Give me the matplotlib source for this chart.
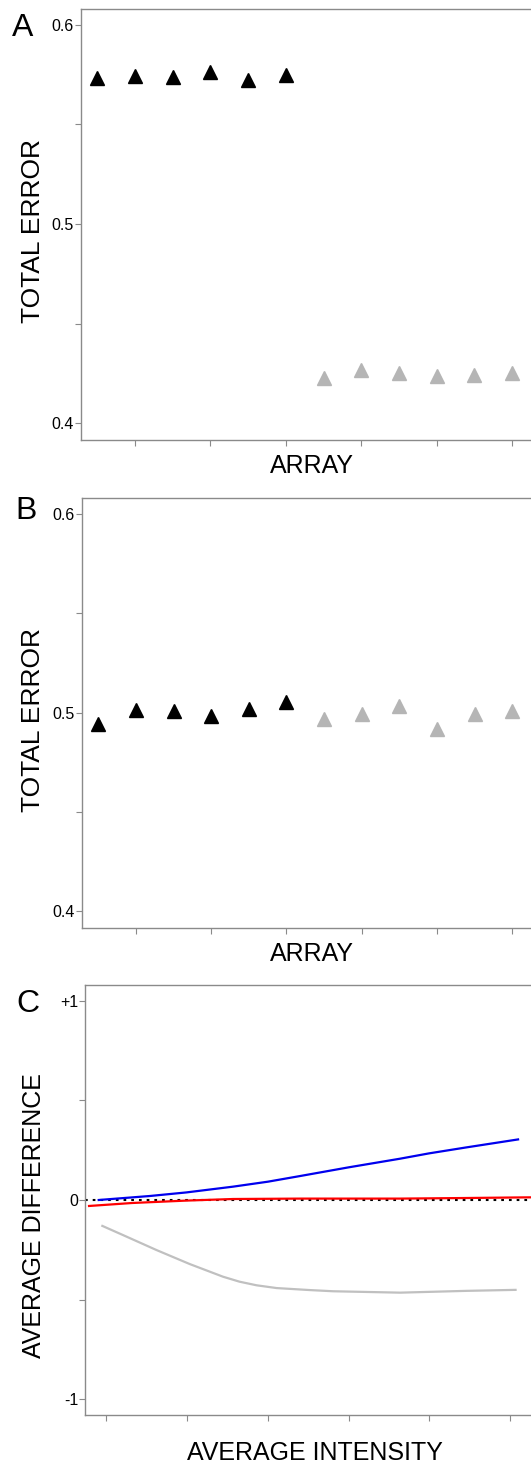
import matplotlib.pyplot as plt

plt.rcParams['font.family'] = ['Liberation Sans', 'DejaVu Sans']

# Panel A / B: total error per array (12 arrays, first 6 black, last 6 grey)
arrays_black = [1, 2, 3, 4, 5, 6]
arrays_grey = [7, 8, 9, 10, 11, 12]
err_a_black = [0.5734, 0.5744, 0.5740, 0.5766, 0.5724, 0.5746]
err_a_grey = [0.4225, 0.4266, 0.4250, 0.4236, 0.4241, 0.4250]
err_b_black = [0.4942, 0.5014, 0.5008, 0.4980, 0.5017, 0.5055]
err_b_grey = [0.4968, 0.4993, 0.5035, 0.4916, 0.4993, 0.5008]

# Panel C: average difference vs average intensity
blue_x = [-0.095, 0.537, 0.991, 1.570, 2.003, 2.396, 3.003, 3.635, 3.998, 4.461, 5.101]
blue_y = [0.0, 0.020, 0.038, 0.067, 0.092, 0.120, 0.164, 0.207, 0.234, 0.264, 0.304]
red_x = [-0.215, 0.32, 0.99, 1.57, 2.40, 3.64, 4.46, 5.15, 5.45]
red_y = [-0.030, -0.015, -0.003, 0.005, 0.007, 0.007, 0.010, 0.013, 0.014]
grey_x = [-0.05, 0.206, 0.62, 1.03, 1.445, 1.65, 1.86, 2.11, 2.52, 2.81, 3.64, 4.46, 5.07]
grey_y = [-0.130, -0.176, -0.251, -0.321, -0.385, -0.410, -0.428, -0.442, -0.452,
          -0.458, -0.465, -0.456, -0.451]

W, H = 531, 1468
fig = plt.figure(figsize=(W / 100, H / 100), dpi=100)

def px_axes(left, top, right, bottom):
    return fig.add_axes([left / W, 1 - bottom / H, (right - left) / W, (bottom - top) / H])

def style(ax):
    for s in ax.spines.values():
        s.set_color('#8a8a8a')
        s.set_linewidth(1.0)
    ax.tick_params(direction='out', length=4, width=0.8, color='#8a8a8a',
                   labelsize=11.5, pad=1)
    ax.tick_params(axis='x', labelbottom=False)

def error_panel(ax, black, grey):
    ax.plot(arrays_black, black, ls='none', marker='^', ms=10, color='black')
    ax.plot(arrays_grey, grey, ls='none', marker='^', ms=10, color='#b5b5b5')
    ax.set_xlim(0.567, 12.82)
    ax.set_ylim(0.3915, 0.608)
    ax.set_xticks([2, 4, 6, 8, 10, 12])
    ax.set_yticks([0.4, 0.45, 0.5, 0.55, 0.6])
    ax.set_yticklabels(['0.4', '', '0.5', '', '0.6'])
    style(ax)

ax_a = px_axes(81, 9, 543, 440)
error_panel(ax_a, err_a_black, err_a_grey)
ax_b = px_axes(82, 498, 543, 928)
error_panel(ax_b, err_b_black, err_b_grey)

ax_c = px_axes(85, 985, 543, 1415)
ax_c.axhline(0, color='black', lw=1.5, ls=(0, (1.3, 2.4)), zorder=1)
ax_c.plot(grey_x, grey_y, color='#c0c0c0', lw=1.6, zorder=2)
ax_c.plot(red_x, red_y, color='#ff0000', lw=1.6, zorder=3)
ax_c.plot(blue_x, blue_y, color='#0000ee', lw=1.6, zorder=3)
ax_c.set_xlim(-0.265, 5.41)
ax_c.set_ylim(-1.079, 1.079)
ax_c.set_xticks([0, 1, 2, 3, 4, 5])
ax_c.set_yticks([-1, -0.5, 0, 0.5, 1])
ax_c.set_yticklabels(['-1', '', '0', '', '+1'])
style(ax_c)

# panel letters, axis titles
def ftext(x, y, s, **kw):
    fig.text(x / W, 1 - y / H, s, **kw)

for letter, (lx, ly) in zip('ABC', [(12, 28), (15, 511), (16, 1004)]):
    ftext(lx, ly, letter, fontsize=23, ha='left', va='center')

ftext(33, 231, 'TOTAL ERROR', fontsize=19, rotation=90, ha='center', va='center')
ftext(33, 720, 'TOTAL ERROR', fontsize=19, rotation=90, ha='center', va='center')
ftext(34, 1216, 'AVERAGE DIFFERENCE', fontsize=18, rotation=90, ha='center', va='center')
ftext(312, 466, 'ARRAY', fontsize=18, ha='center', va='center')
ftext(312, 954, 'ARRAY', fontsize=18, ha='center', va='center')
ftext(315, 1453, 'AVERAGE INTENSITY', fontsize=18, ha='center', va='center')

fig.savefig('out.png', dpi=100)
